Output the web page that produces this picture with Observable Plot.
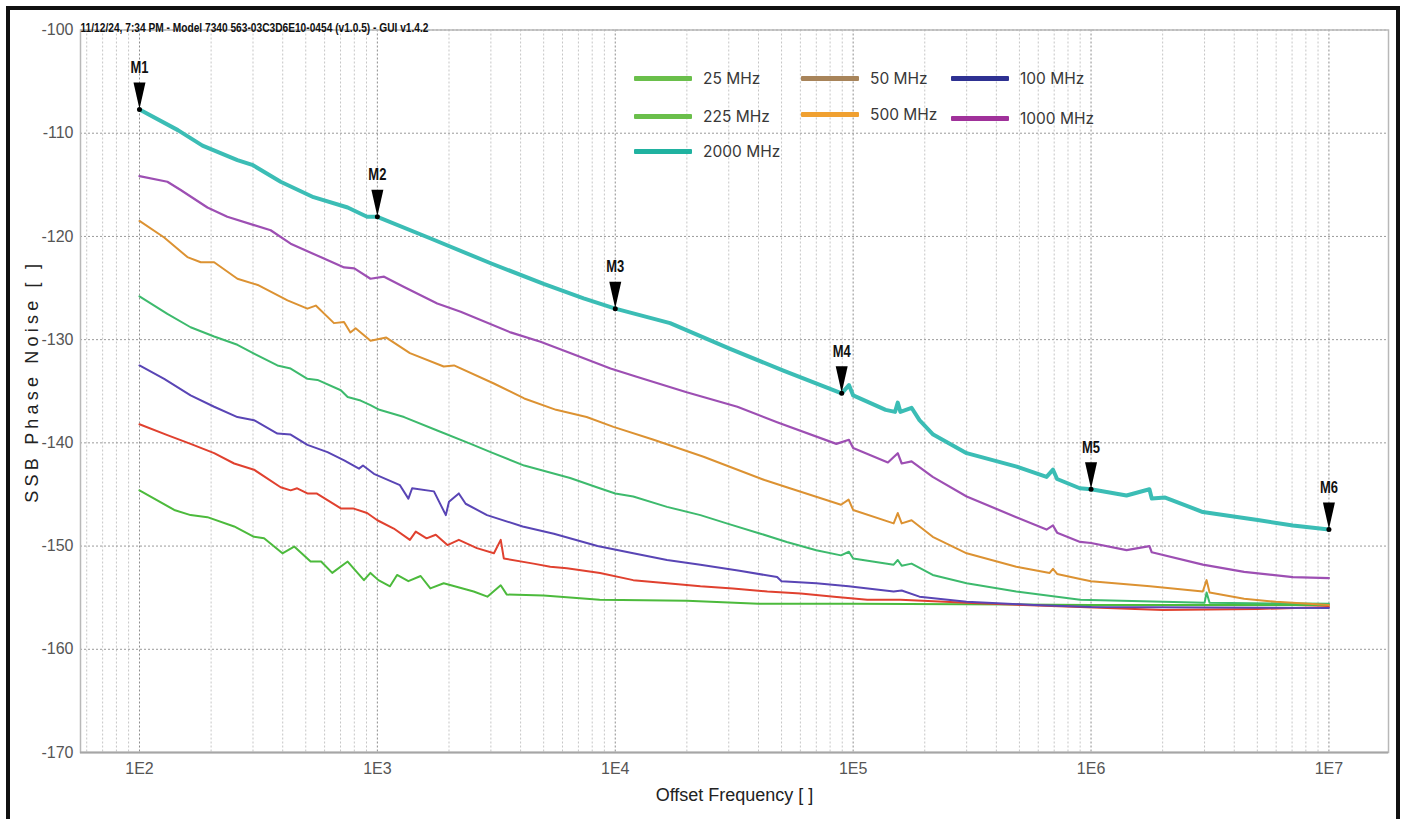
<!DOCTYPE html>
<html>
<head>
<meta charset="utf-8">
<script src="https://cdn.jsdelivr.net/npm/d3@7"></script>
<script src="https://cdn.jsdelivr.net/npm/@observablehq/plot@0.6"></script>
<style>
  html, body { margin: 0; padding: 0; background: #fff; width: 1403px; height: 819px; overflow: hidden; }
  #wrap { position: relative; width: 1403px; height: 819px; }
  #chart { position: absolute; left: 0; top: 0; }
  #frame { position: absolute; left: 6px; top: 6px; width: 1386px; height: 900px; border: 4px solid #111; pointer-events: none; }
  #legend { position: absolute; left: 0; top: 0; width: 1403px; height: 819px; pointer-events: none; font-family: Inter, "Noto Sans", sans-serif; font-size: 15.5px; color: #383838; }
  .sw { position: absolute; width: 58px; height: 5px; border-radius: 1px; }
  .lt { position: absolute; line-height: 18px; white-space: nowrap; }
</style>
</head>
<body>
<div id="wrap">
  <div id="chart"></div>
  <div id="legend"></div>
  <div id="frame"></div>
</div>
<script>
// ---------------- data ----------------
const titleText = "11/12/24, 7:34 PM - Model 7340 563-03C3D6E10-0454 (v1.0.5) - GUI v1.4.2";
const xTitle = "Offset Frequency [ ]";
const yTitle = "SSB Phase Noise [ ]";

const seriesNames = ["25 MHz", "50 MHz", "100 MHz", "225 MHz", "500 MHz", "1000 MHz", "2000 MHz"];
const lineColors  = ["#4cba3c", "#e0412f", "#5945b5", "#3dba6d", "#dc9232", "#9d4fb3", "#3bbdb5"];
const legendColors = ["#6abf4b", "#a8845a", "#2e3192", "#6abf4b", "#f0a030", "#a0319a", "#20b2a0"];

const xDecades = [100, 1e3, 1e4, 1e5, 1e6, 1e7];
const xTickLabels = ["1E2", "1E3", "1E4", "1E5", "1E6", "1E7"];
const yTicks = [-170, -160, -150, -140, -130, -120, -110, -100];

const f25 = [100,140,164,193,250,303,334,399,447,524,580,646,750,878,935,1010,1130,1210,1350,1520,1670,1900,2540,2900,3300,3500,5000,8600,20000,40000,70000,100000,1000000,10000000];
const v25 = [-144.6,-146.5,-147.0,-147.2,-148.1,-149.1,-149.25,-150.7,-150.05,-151.5,-151.5,-152.6,-151.5,-153.3,-152.6,-153.3,-153.9,-152.8,-153.4,-152.9,-154.1,-153.6,-154.4,-154.9,-153.8,-154.7,-154.8,-155.2,-155.3,-155.6,-155.6,-155.6,-155.7,-155.7];

const f50 = [100,131,164,206,250,303,392,432,460,508,555,702,790,905,1000,1172,1370,1450,1610,1760,1970,2200,2620,3090,3300,3400,4530,5330,6260,8630,11900,16500,22800,31200,43600,60200,83100,114700,158000,300000,900000,2000000,5000000,10000000];
const v50 = [-138.2,-139.25,-140.1,-141.0,-142.0,-142.6,-144.3,-144.6,-144.4,-144.9,-144.9,-146.35,-146.35,-146.8,-147.5,-148.3,-149.4,-148.6,-149.25,-148.9,-149.9,-149.4,-150.2,-150.7,-149.4,-151.2,-151.7,-152.0,-152.15,-152.6,-153.3,-153.6,-153.9,-154.1,-154.4,-154.6,-154.9,-155.2,-155.2,-155.5,-155.9,-156.2,-156.1,-155.9];

const f100 = [100,127,164,206,258,303,380,432,508,617,725,837,870,967,1244,1350,1400,1729,1940,2000,2200,2350,2890,4080,5520,8420,11900,16500,22800,33300,47900,50000,70000,95700,148000,160000,190000,300000,575000,1000000,10000000];
const v100 = [-132.5,-133.8,-135.4,-136.5,-137.5,-137.8,-139.1,-139.2,-140.2,-140.9,-141.7,-142.5,-142.2,-143.0,-144.1,-145.4,-144.4,-144.7,-147.0,-145.7,-144.9,-145.9,-147.0,-148.1,-148.8,-150.0,-150.7,-151.35,-151.8,-152.4,-153.0,-153.4,-153.6,-153.9,-154.4,-154.3,-154.9,-155.4,-155.7,-155.9,-156.0];

const f225 = [100,131,164,206,258,303,380,432,508,560,702,750,850,935,1020,1295,1785,2468,2993,4143,6460,8600,10000,11900,16500,22800,29400,40800,52600,70000,88900,96000,100000,148000,154000,160000,176000,216000,300000,485000,900000,3000000,3060000,3150000,10000000];
const v225 = [-125.8,-127.5,-128.8,-129.7,-130.5,-131.35,-132.5,-132.8,-133.8,-133.9,-134.9,-135.55,-135.9,-136.35,-136.8,-137.5,-138.8,-140.1,-140.9,-142.2,-143.4,-144.4,-144.9,-145.2,-146.2,-147.0,-147.8,-148.8,-149.6,-150.4,-150.9,-150.55,-151.2,-151.8,-151.35,-151.9,-151.7,-152.8,-153.6,-154.4,-155.2,-155.5,-154.5,-155.5,-155.6];

const f500 = [100,127,159,181,206,258,314,419,508,551,657,724,770,810,936,1090,1370,1900,2100,3088,4143,5640,7580,9830,14500,23500,42400,52600,88900,95700,100000,148000,154000,160000,176000,216000,300000,485000,670000,692000,720000,900000,1000000,1770000,2950000,3060000,3150000,4400000,6000000,10000000];
const v500 = [-118.5,-120.1,-122.0,-122.5,-122.5,-124.1,-124.7,-126.2,-127.0,-126.7,-128.4,-128.3,-129.3,-128.9,-130.1,-129.8,-131.3,-132.6,-132.5,-134.25,-135.7,-136.8,-137.5,-138.45,-139.7,-141.35,-143.6,-144.3,-146.0,-145.5,-146.5,-147.8,-146.8,-147.8,-147.5,-149.1,-150.7,-152.0,-152.6,-152.2,-152.7,-153.2,-153.4,-153.9,-154.4,-153.3,-154.5,-155.1,-155.4,-155.7];

const f1000 = [100,131,149,193,234,303,356,432,577,725,800,935,1067,1295,1785,2240,3630,4850,6460,9550,12300,19960,32600,47900,85000,96000,100000,140000,154000,160000,176000,216000,300000,485000,650000,692000,720000,900000,1000000,1410000,1760000,1800000,2950000,4400000,7050000,10000000];
const v1000 = [-114.15,-114.7,-115.5,-117.2,-118.1,-118.9,-119.4,-120.7,-122.0,-123.0,-123.1,-124.1,-123.9,-124.9,-126.5,-127.3,-129.3,-130.2,-131.3,-132.8,-133.6,-135.1,-136.5,-138.0,-140.1,-139.7,-140.5,-141.9,-141.0,-142.0,-141.8,-143.3,-145.2,-147.2,-148.4,-148.0,-148.7,-149.6,-149.7,-150.4,-150.0,-150.6,-151.8,-152.5,-153.0,-153.1];

const f2000 = [100,145,184,258,300,392,539,750,905,1000,1675,2994,5000,7360,10000,17000,30400,50900,89500,96000,100000,137000,150000,154000,158000,176000,190000,217000,300000,487000,650000,692000,720000,897000,1000000,1410000,1760000,1800000,2050000,2950000,5100000,7050000,10000000];
const v2000 = [-107.7,-109.7,-111.2,-112.6,-113.1,-114.7,-116.2,-117.2,-118.1,-118.1,-120.2,-122.6,-124.6,-126.0,-127.0,-128.4,-130.9,-133.0,-135.2,-134.4,-135.4,-136.8,-137.0,-136.1,-137.0,-136.6,-137.8,-139.2,-141.0,-142.3,-143.3,-142.6,-143.5,-144.4,-144.5,-145.1,-144.5,-145.4,-145.3,-146.7,-147.5,-148.0,-148.4];

const markerNames = ["M1", "M2", "M3", "M4", "M5", "M6"];
const markerFreq  = [100, 1000, 10000, 89500, 1000000, 10000000];
const markerVal   = [-107.7, -118.1, -127.0, -135.2, -144.5, -148.4];

// ---------------- build tables ----------------
const freqs = [f25, f50, f100, f225, f500, f1000, f2000];
const vals  = [v25, v50, v100, v225, v500, v1000, v2000];
const lineData = seriesNames.map((name, i) => freqs[i].map((f, j) => ({series: name, f, v: vals[i][j]})));
const markers = markerNames.map((m, i) => ({m, f: markerFreq[i], v: markerVal[i]}));
const minorGrid = [10, ...xDecades.slice(0, 5)].flatMap(d => [2,3,4,5,6,7,8,9].map(k => d * k)).filter(f => f > 56.5 && f < 1.78e7);

const markerSymbol = {
  draw(ctx) {
    ctx.moveTo(-6, -27);
    ctx.lineTo(6, -27);
    ctx.lineTo(0.8, -4);
    ctx.lineTo(0, -1);
    ctx.lineTo(-0.8, -4);
    ctx.closePath();
  }
};

const narrow = "'Liberation Sans Narrow', 'Arial Narrow', 'Liberation Sans', sans-serif";
const widths = [2, 2, 2, 2, 2, 2.2, 4];

const marks = [
  Plot.ruleX(minorGrid, {stroke: "#c6c6c6", strokeDasharray: "2,2", strokeWidth: 1}),
  Plot.ruleX(xDecades, {stroke: "#8e8e8e", strokeDasharray: "2,2", strokeWidth: 1}),
  Plot.ruleY(yTicks, {stroke: "#9a9a9a", strokeDasharray: "2,2", strokeWidth: 1}),
  Plot.frame({stroke: "#b8b8b8", strokeWidth: 1.5}),
  Plot.ruleY([-170], {stroke: "#a6a6a6", strokeWidth: 2}),
  ...lineData.map((d, i) => Plot.line(d, {x: "f", y: "v", stroke: lineColors[i], strokeWidth: widths[i], strokeLinejoin: "round"})),
  Plot.dot(markers, {x: "f", y: "v", symbol: markerSymbol, fill: "#000", stroke: "none"}),
  Plot.dot(markers, {x: "f", y: "v", r: 2.5, fill: "#000"}),
  Plot.text(markers, {x: "f", y: "v", text: "m", dy: -42, fontSize: 17, fontWeight: "bold", fontFamily: narrow, fill: "#111"}),
  Plot.text(xDecades, {x: d => d, text: (d, i) => xTickLabels[i], frameAnchor: "bottom", dy: 21, fontSize: 16, fontFamily: narrow, fill: "#555"}),
  Plot.text(yTicks, {y: d => d, text: d => String(d), frameAnchor: "left", dx: -7, textAnchor: "end", fontSize: 16, fontFamily: narrow, fill: "#555"}),
  Plot.text([xTitle], {text: d => d, frameAnchor: "bottom", dy: 48, textAnchor: "middle", fontSize: 18, fontFamily: "'Liberation Sans', Arial, sans-serif", fill: "#222"}),
  Plot.text([yTitle], {text: d => d, frameAnchor: "left", textAnchor: "middle", dx: -48, dy: -10, rotate: -90, fontSize: 18, fontFamily: "'Liberation Sans', Arial, sans-serif", fill: "#222"}),
  Plot.text([titleText], {text: d => d, frameAnchor: "top-left", textAnchor: "start", dy: -8, fontSize: 13.5, fontWeight: "bold", fontFamily: narrow, fill: "#111"})
];

const chart = Plot.plot({
  width: 1403,
  height: 819,
  marginLeft: 80,
  marginRight: 15,
  marginTop: 29.5,
  marginBottom: 67,
  style: {background: "transparent", overflow: "visible"},
  x: {type: "log", domain: [56.5, 1.78e7], axis: null},
  y: {domain: [-170, -100], axis: null},
  marks
});
document.getElementById("chart").appendChild(chart);
chart.querySelectorAll("text").forEach(t => {
  if (t.textContent === yTitle) t.setAttribute("letter-spacing", "4.2");
  if (t.textContent === titleText) { t.setAttribute("textLength", "348"); t.setAttribute("lengthAdjust", "spacingAndGlyphs"); }
  if (/^M\d$/.test(t.textContent)) { t.setAttribute("textLength", "18"); t.setAttribute("lengthAdjust", "spacingAndGlyphs"); }
});

// ---------------- legend ----------------
const legendCols = [634, 801, 951, 634, 801, 951, 634];
const legendRows = [78, 78, 78, 116, 114, 118, 151];
const legend = document.getElementById("legend");
seriesNames.forEach((name, i) => {
  const sw = document.createElement("div");
  sw.className = "sw";
  sw.style.left = legendCols[i] + "px";
  sw.style.top = (legendRows[i] - 2.5) + "px";
  sw.style.background = legendColors[i];
  legend.appendChild(sw);
  const t = document.createElement("div");
  t.className = "lt";
  t.textContent = name;
  t.style.left = (legendCols[i] + 69) + "px";
  t.style.top = (legendRows[i] - 8) + "px";
  legend.appendChild(t);
});
</script>
</body>
</html>
